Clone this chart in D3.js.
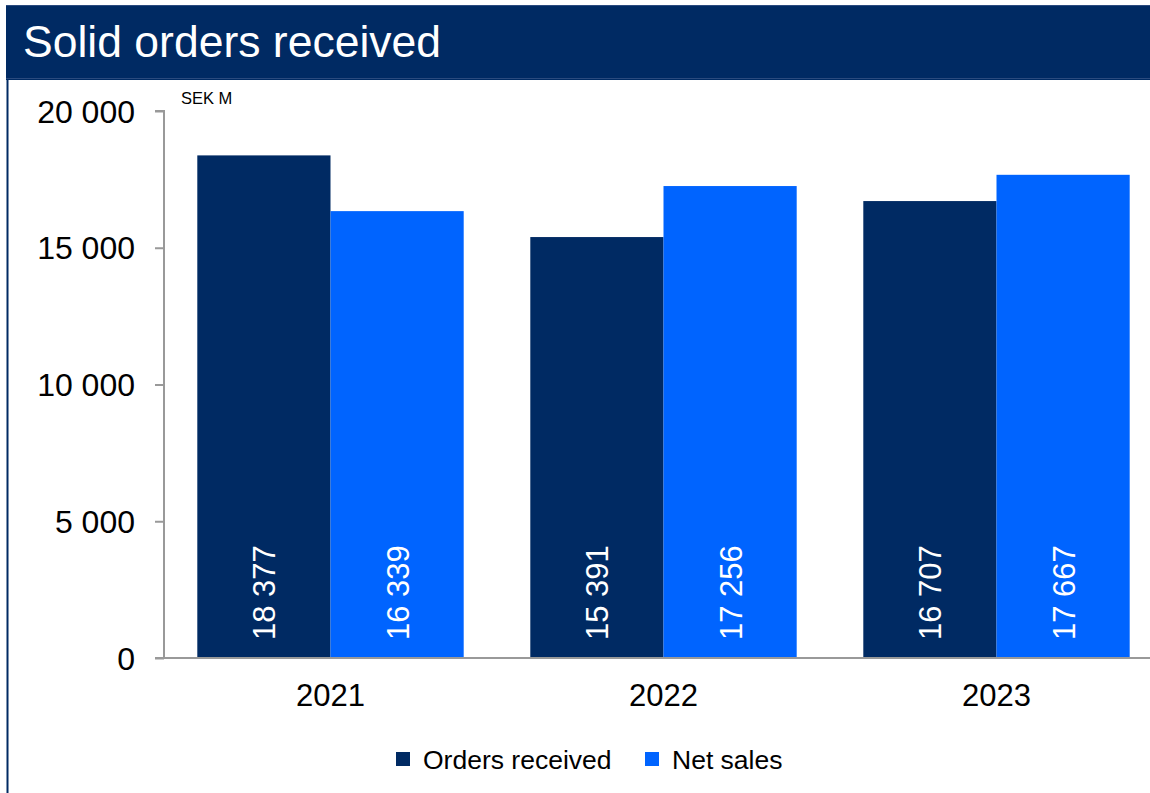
<!DOCTYPE html>
<html>
<head>
<meta charset="utf-8">
<script src="https://cdn.jsdelivr.net/npm/d3@7"></script>
<style>
  html, body { margin: 0; padding: 0; background: #fff; }
  svg { display: block; font-family: "Liberation Sans", Arial, sans-serif; }
</style>
</head>
<body>
<svg id="chart" width="1150" height="793"></svg>
<script>
// Annual figures, SEK M
const years = ["2021", "2022", "2023"];
const seriesNames = ["Orders received", "Net sales"];
const ordersReceived = [18377, 15391, 16707];
const netSales = [16339, 17256, 17667];
const yTicks = [0, 5000, 10000, 15000, 20000];

const colors = { "Orders received": "#002A63", "Net sales": "#0064FF" };
const navy = "#002A63";

const svg = d3.select("#chart");

// Title band
svg.append("rect")
  .attr("x", 6).attr("y", 5).attr("width", 1150).attr("height", 75)
  .attr("fill", navy);
svg.append("line")
  .attr("x1", 6).attr("x2", 1150).attr("y1", 5.5).attr("y2", 5.5)
  .attr("stroke", "#2a4a7e").attr("stroke-width", 1);
svg.append("line")
  .attr("x1", 6).attr("x2", 1150).attr("y1", 78.5).attr("y2", 78.5)
  .attr("stroke", "#2a4a7e").attr("stroke-width", 1);
svg.append("text")
  .attr("x", 23).attr("y", 57)
  .attr("fill", "#fff")
  .attr("font-size", 44.5)
  .text("Solid orders received");

// Left frame line
svg.append("line")
  .attr("x1", 7.5).attr("x2", 7.5).attr("y1", 80).attr("y2", 793)
  .attr("stroke", navy).attr("stroke-width", 2);

// Scales
const y = d3.scaleLinear().domain([0, 20000]).range([658, 111]);
const x0 = d3.scaleBand().domain(years).range([164, 1163])
  .paddingInner(0.2).paddingOuter(0.1);
const x1 = d3.scaleBand().domain(seriesNames).range([0, x0.bandwidth()]);

const rows = years.map((yr, i) => ({
  year: yr,
  values: [
    { name: "Orders received", value: ordersReceived[i] },
    { name: "Net sales", value: netSales[i] }
  ]
}));

const fmt = v => d3.format(",")(v).replace(/,/g, " ");

// Bars
const groups = svg.append("g").selectAll("g").data(rows).join("g")
  .attr("transform", d => `translate(${x0(d.year)},0)`);

groups.selectAll("rect").data(d => d.values).join("rect")
  .attr("x", d => x1(d.name))
  .attr("y", d => y(d.value))
  .attr("width", x1.bandwidth())
  .attr("height", d => y(0) - y(d.value))
  .attr("fill", d => colors[d.name]);

// Value labels, rotated inside bars
groups.selectAll("text").data(d => d.values).join("text")
  .attr("transform", d => `translate(${x1(d.name) + x1.bandwidth() / 2 + 1},${y(0) - 18}) rotate(-90)`)
  .attr("text-anchor", "start")
  .attr("dominant-baseline", "central")
  .attr("fill", "#fff")
  .attr("font-size", 31)
  .text(d => fmt(d.value));

// Y axis
const yAxis = d3.axisLeft(y).tickValues(yTicks).tickSize(9).tickPadding(20)
  .tickFormat(fmt);
const gy = svg.append("g").attr("transform", "translate(164,0)").call(yAxis);
gy.select(".domain").attr("stroke", "#999").attr("stroke-width", 2)
  .attr("d", `M-9,${y(20000)}H0V${y(0)}`);
gy.selectAll(".tick line").attr("stroke", "#999").attr("stroke-width", 2);
gy.selectAll(".tick text").attr("font-size", 32).attr("fill", "#000")
  .attr("font-family", "Liberation Sans, Arial, sans-serif")
  .attr("dy", "0.35em");

// X axis baseline
const xAxis = d3.axisBottom(x0).tickSize(0).tickPadding(26);
const gx = svg.append("g").attr("transform", `translate(0,${y(0)})`).call(xAxis);
gx.select(".domain").attr("stroke", "#999").attr("stroke-width", 2)
  .attr("d", `M155,0H1150`);
gx.selectAll(".tick text").attr("font-size", 31).attr("fill", "#000")
  .attr("font-family", "Liberation Sans, Arial, sans-serif");

// Unit note
svg.append("text")
  .attr("x", 181).attr("y", 104)
  .attr("font-size", 16.5).attr("fill", "#000")
  .text("SEK M");

// Legend
const legendItems = [
  { name: "Orders received", x: 396 },
  { name: "Net sales", x: 645 }
];
const lg = svg.append("g").selectAll("g").data(legendItems).join("g")
  .attr("transform", d => `translate(${d.x},752)`);
lg.append("rect").attr("width", 14).attr("height", 14)
  .attr("fill", d => colors[d.name]);
lg.append("text")
  .attr("x", 27).attr("y", 17)
  .attr("font-size", 26.5).attr("fill", "#000")
  .text(d => d.name);
</script>
</body>
</html>
